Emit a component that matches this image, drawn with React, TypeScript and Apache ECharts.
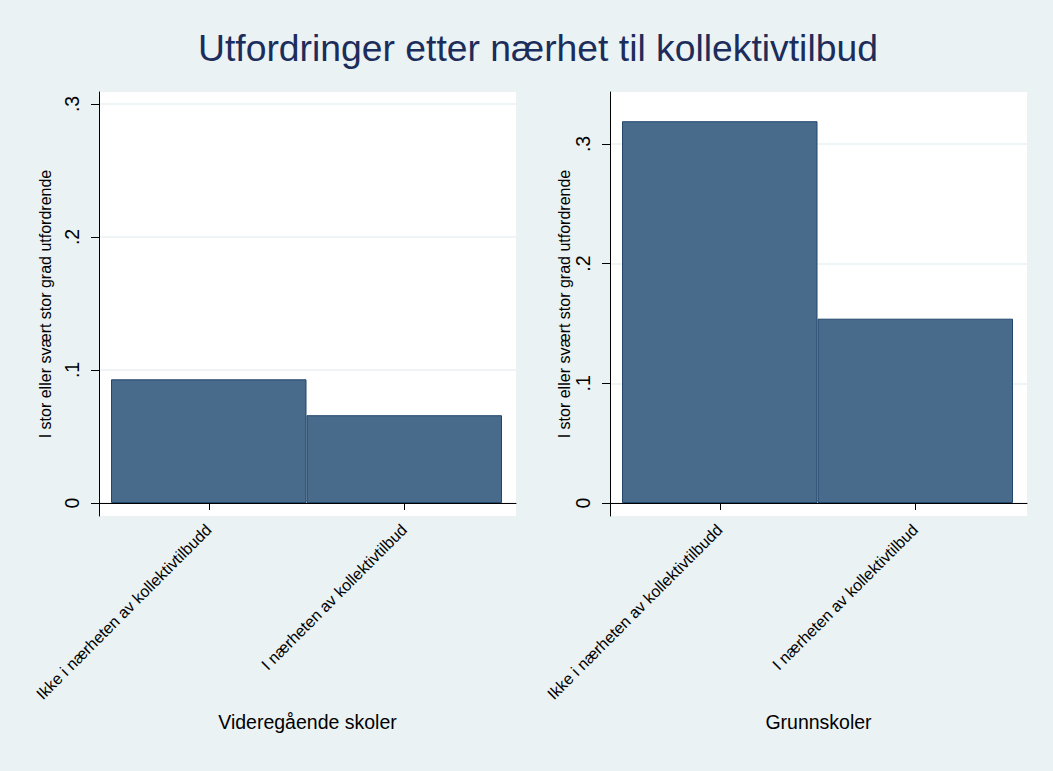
import React, { useEffect, useRef } from "react";
import * as echarts from "echarts";

const mainTitle = "Utfordringer etter nærhet til kollektivtilbud";
const categories = ["Ikke i nærheten av kollektivtilbudd", "I nærheten av kollektivtilbud"];
const panelTitles = ["Videregående skoler", "Grunnskoler"];
const yAxisTitle = "I stor eller svært stor grad utfordrende";
const vgsValues = [0.093, 0.066];
const grunnValues = [0.319, 0.154];
const yTicks = [0, 0.1, 0.2, 0.3];
const yTickLabels = ["0", ".1", ".2", ".3"];

const FONT = "'Liberation Sans', Arial, sans-serif";
const BG = "#EAF2F3";
const BAR = "#486a8b";
const BAR_BORDER = "#22476b";

function fmtTick(v: number): string {
  for (let i = 0; i < yTicks.length; i++) {
    if (Math.abs(yTicks[i] - v) < 1e-9) return yTickLabels[i];
  }
  return "";
}

export default function App() {
  const ref = useRef<HTMLDivElement>(null);
  useEffect(() => {
    document.body.style.margin = "0";
    document.body.style.background = BG;
    if (!ref.current) return;
    const chart = echarts.init(ref.current, undefined, { renderer: "svg" });

    const panels = [
      { frameLeft: 99, barLeft: 111, yMin: -0.00977, yMax: 0.309, nameGap: 46, values: vgsValues, title: panelTitles[0] },
      { frameLeft: 610, barLeft: 622, yMin: -0.01086, yMax: 0.3434, nameGap: 35, values: grunnValues, title: panelTitles[1] },
    ];
    const top = 92;
    const height = 424;
    const frameWidth = 417;
    const barWidth = 391;

    const grids: any[] = [];
    const xAxes: any[] = [];
    const yAxes: any[] = [];
    const series: any[] = [];

    panels.forEach((p, i) => {
      const fi = i * 2;
      const bi = i * 2 + 1;
      grids.push({ left: p.frameLeft, top, width: frameWidth, height, show: true, backgroundColor: "#ffffff", borderWidth: 0 });
      grids.push({ left: p.barLeft, top, width: barWidth, height });
      xAxes.push({
        gridIndex: fi,
        type: "value",
        min: 0,
        max: 1,
        axisLine: { show: true, lineStyle: { color: "#000", width: 1 } },
        axisTick: { show: false },
        axisLabel: { show: false },
        splitLine: { show: false },
        name: p.title,
        nameLocation: "middle",
        nameGap: 196,
        nameTextStyle: { fontFamily: FONT, fontSize: 19.5, color: "#000" },
      });
      xAxes.push({
        gridIndex: bi,
        type: "category",
        data: categories,
        boundaryGap: true,
        axisLine: { show: false },
        axisTick: { show: true, alignWithLabel: true, length: 7, lineStyle: { color: "#000", width: 1 } },
        axisLabel: { interval: 0, rotate: 45, margin: 11, fontFamily: FONT, fontSize: 16, color: "#000" },
        splitLine: { show: false },
      });
      yAxes.push({
        gridIndex: fi,
        type: "value",
        min: p.yMin,
        max: p.yMax,
        axisLine: { show: true, lineStyle: { color: "#000", width: 1 } },
        axisTick: { show: true, customValues: yTicks, length: 8, lineStyle: { color: "#000", width: 1 } },
        axisLabel: { customValues: yTicks, formatter: (v: number) => fmtTick(v), rotate: 90, margin: 17, fontFamily: FONT, fontSize: 19.5, color: "#000" },
        splitLine: { show: true, lineStyle: { color: BG, width: 1.5 } },
        name: yAxisTitle,
        nameLocation: "middle",
        nameGap: p.nameGap,
        nameRotate: 90,
        nameTextStyle: { fontFamily: FONT, fontSize: 16, color: "#000" },
      });
      yAxes.push({ gridIndex: bi, type: "value", min: p.yMin, max: p.yMax, show: false, splitLine: { show: false } });
      series.push({
        type: "bar",
        xAxisIndex: bi,
        yAxisIndex: bi,
        data: p.values,
        barWidth: "100%",
        itemStyle: { color: BAR, borderColor: BAR_BORDER, borderWidth: 1 },
        silent: true,
      });
    });

    chart.setOption({
      animation: false,
      backgroundColor: BG,
      title: {
        text: mainTitle,
        left: 198,
        top: 29,
        padding: 0,
        textStyle: { fontFamily: FONT, fontSize: 37.3, fontWeight: "normal", color: "#1c2d5c" },
      },
      grid: grids,
      xAxis: xAxes,
      yAxis: yAxes,
      series,
    });
    return () => chart.dispose();
  }, []);
  return <div ref={ref} style={{ width: 1053, height: 771 }} />;
}
